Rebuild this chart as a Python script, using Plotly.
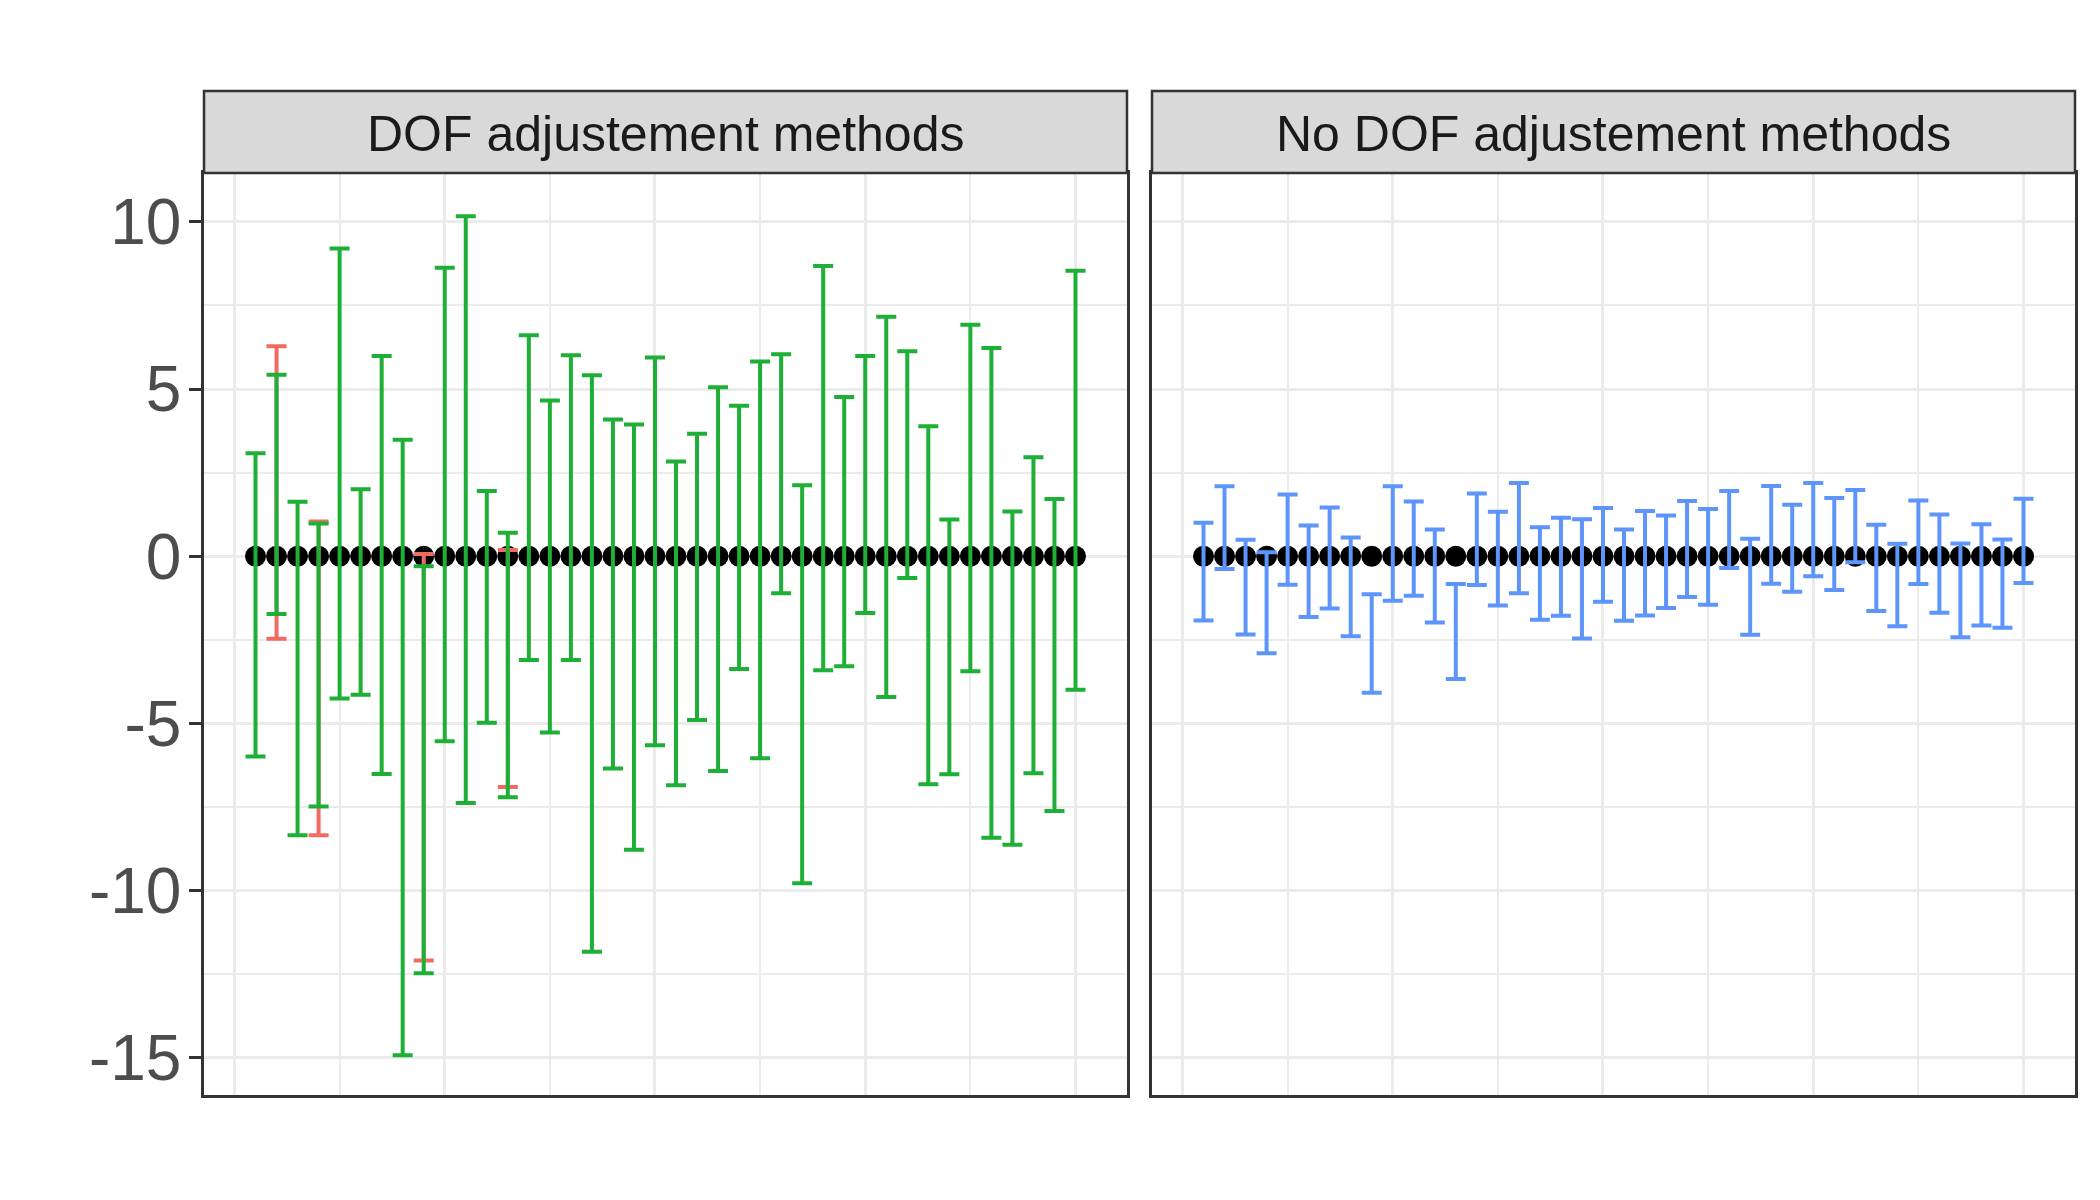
import plotly.graph_objects as go

# ---------------- data ----------------
idx = list(range(1, 41))

# Left facet: "DOF adjustement methods"
dof_est = [0.0] * 40
dof_lower = [-5.99, -1.73, -8.34, -7.48, -4.25, -4.14, -6.51, -14.92, -12.47, -5.53,
             -7.38, -4.98, -7.21, -3.10, -5.27, -3.10, -11.83, -6.35, -8.78, -5.65,
             -6.85, -4.90, -6.42, -3.37, -6.04, -1.11, -9.78, -3.41, -3.29, -1.70,
             -4.21, -0.65, -6.82, -6.52, -3.44, -8.42, -8.63, -6.49, -7.62, -3.99]
dof_upper = [3.08, 5.43, 1.63, 0.98, 9.20, 2.00, 5.99, 3.48, -0.30, 8.63,
             10.17, 1.95, 0.70, 6.61, 4.66, 6.01, 5.41, 4.09, 3.94, 5.94,
             2.83, 3.66, 5.05, 4.50, 5.82, 6.04, 2.12, 8.68, 4.76, 5.99,
             7.16, 6.13, 3.89, 1.10, 6.92, 6.23, 1.34, 2.96, 1.71, 8.54]

# second DOF method (red), visible where it differs from the green one
red_idx = [2, 4, 9, 13]
red_est = [0.0, 0.0, 0.0, 0.0]
red_lower = [-2.47, -8.34, -12.09, -6.90]
red_upper = [6.28, 1.04, 0.07, 0.19]

# Right facet: "No DOF adjustement methods"
nodof_est = [0.0] * 40
nodof_lower = [-1.92, -0.38, -2.34, -2.90, -0.85, -1.82, -1.56, -2.39, -4.08, -1.33,
               -1.18, -1.98, -3.67, -0.86, -1.47, -1.11, -1.90, -1.78, -2.46, -1.36,
               -1.93, -1.77, -1.55, -1.22, -1.45, -0.35, -2.35, -0.82, -1.06, -0.60,
               -1.01, -0.18, -1.64, -2.09, -0.83, -1.69, -2.42, -2.07, -2.14, -0.80]
nodof_upper = [1.00, 2.09, 0.49, 0.12, 1.85, 0.92, 1.46, 0.56, -1.14, 2.09,
               1.64, 0.80, -0.83, 1.88, 1.33, 2.19, 0.87, 1.15, 1.11, 1.44,
               0.80, 1.35, 1.22, 1.65, 1.41, 1.95, 0.52, 2.10, 1.54, 2.19,
               1.74, 1.98, 0.94, 0.37, 1.67, 1.25, 0.38, 0.96, 0.50, 1.72]

facet_titles = ["DOF adjustement methods", "No DOF adjustement methods"]
y_ticks = [-15, -10, -5, 0, 5, 10]
y_ticktext = ["-15", "-10", "-5", "0", "5", "10"]
y_minor = [-12.5, -7.5, -2.5, 2.5, 7.5]
x_major = [0, 10, 20, 30, 40]
x_minor = [5, 15, 25, 35]

RED = "#F26B63"
GREEN = "#1EAF36"
BLUE = "#5E95FA"
FONT = "Liberation Sans, Arial, Helvetica, sans-serif"

fig = go.Figure()


def dot_trace(x, y, xa, ya):
    return go.Scatter(x=x, y=y, mode="markers", xaxis=xa, yaxis=ya,
                      marker=dict(color="black", size=21, line=dict(width=0)),
                      showlegend=False, hoverinfo="skip")


def bar_trace(x, est, lo, hi, color, xa, ya):
    return go.Scatter(
        x=x, y=est, mode="markers", xaxis=xa, yaxis=ya,
        marker=dict(color="rgba(0,0,0,0)", size=1),
        error_y=dict(type="data", symmetric=False,
                     array=[h - e for h, e in zip(hi, est)],
                     arrayminus=[e - l for l, e in zip(lo, est)],
                     color=color, thickness=4, width=10),
        showlegend=False, hoverinfo="skip")


# left facet
fig.add_trace(dot_trace(idx, dof_est, "x", "y"))
fig.add_trace(bar_trace(red_idx, red_est, red_lower, red_upper, RED, "x", "y"))
fig.add_trace(bar_trace(idx, dof_est, dof_lower, dof_upper, GREEN, "x", "y"))
# right facet
fig.add_trace(dot_trace(idx, nodof_est, "x2", "y2"))
fig.add_trace(bar_trace(idx, nodof_est, nodof_lower, nodof_upper, BLUE, "x2", "y2"))

# page has an 8px body margin: figure pixel = page pixel - 8
OFF = 8
W, H = 2084, 1184
left_dom = [(204 - OFF) / W, (1127 - OFF) / W]
right_dom = [(1152 - OFF) / W, (2075 - OFF) / W]
panel_y = [1 - (1095 - OFF) / H, 1 - (173 - OFF) / H]
strip_y = [1 - (173 - OFF) / H, 1 - (91 - OFF) / H]

xrange_ = [-1.45, 42.45]
yrange_ = [-16.11, 11.46]

grid_major = dict(showgrid=True, gridcolor="#EBEBEB", gridwidth=3)
minor_x = dict(tickmode="array", tickvals=x_minor, showgrid=True,
               gridcolor="#EBEBEB", gridwidth=1.6, ticks="")
minor_y = dict(tickmode="array", tickvals=y_minor, showgrid=True,
               gridcolor="#EBEBEB", gridwidth=1.6, ticks="")

common_x = dict(range=xrange_, tickmode="array", tickvals=x_major,
                showticklabels=False, ticks="", zeroline=False,
                showline=True, mirror=True, linecolor="#333333", linewidth=2.5,
                minor=minor_x, **grid_major)

fig.update_layout(
    width=W, height=H,
    margin=dict(l=0, r=0, t=0, b=0),
    paper_bgcolor="white", plot_bgcolor="white",
    font=dict(family=FONT),
    xaxis=dict(domain=left_dom, anchor="y", **common_x),
    xaxis2=dict(domain=right_dom, anchor="y2", **common_x),
    yaxis=dict(domain=panel_y, anchor="x", range=yrange_,
               tickmode="array", tickvals=y_ticks, ticktext=y_ticktext,
               ticks="outside", ticklen=12, tickwidth=3, tickcolor="#333333",
               ticklabelstandoff=-5,
               tickfont=dict(size=64, color="#4D4D4D", family=FONT),
               zeroline=False, showline=True, mirror=True,
               linecolor="#333333", linewidth=2.5, minor=minor_y, **grid_major),
    yaxis2=dict(domain=panel_y, anchor="x2", range=yrange_,
                tickmode="array", tickvals=y_ticks, showticklabels=False,
                ticks="", zeroline=False, showline=True, mirror=True,
                linecolor="#333333", linewidth=2.5, minor=minor_y, **grid_major),
)

# facet strips
for dom, title in zip([left_dom, right_dom], facet_titles):
    fig.add_shape(type="rect", xref="paper", yref="paper",
                  x0=dom[0], x1=dom[1], y0=strip_y[0], y1=strip_y[1],
                  fillcolor="#D9D9D9", line=dict(color="#333333", width=2.5),
                  layer="above")
    fig.add_annotation(xref="paper", yref="paper",
                       x=(dom[0] + dom[1]) / 2, y=(strip_y[0] + strip_y[1]) / 2,
                       yshift=-2,
                       text=title, showarrow=False, xanchor="center", yanchor="middle",
                       font=dict(size=50, color="#1A1A1A", family=FONT))

fig.write_html("out.html")
